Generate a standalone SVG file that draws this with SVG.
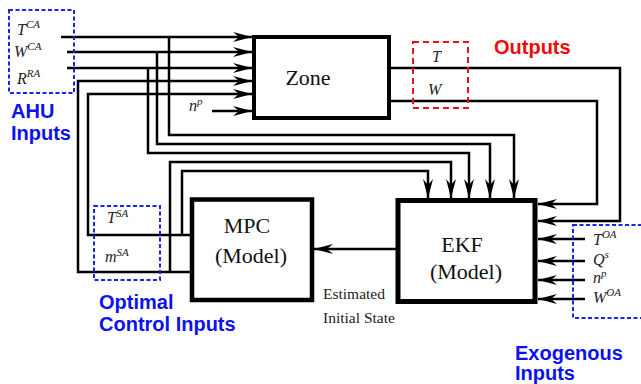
<svg xmlns="http://www.w3.org/2000/svg" width="641" height="384" viewBox="0 0 641 384">
<style>
.box{fill:#fff;stroke:#000}
.wire{fill:none;stroke:#000;stroke-width:2.5}
.arr{marker-end:url(#ah)}
.title{font-family:"Liberation Serif","Times New Roman",serif;font-size:22px;fill:#111;text-anchor:middle}
.math{font-family:"Liberation Serif","Times New Roman",serif;font-style:italic;font-size:16px;fill:#222}
.sup{font-size:11px}
.note{font-family:"Liberation Serif","Times New Roman",serif;font-size:15.5px;fill:#222}
.blue{font-family:"Liberation Sans",Arial,sans-serif;font-weight:bold;font-size:20px;fill:#0a12ee}
.red{font-family:"Liberation Sans",Arial,sans-serif;font-weight:bold;font-size:20px;fill:#ee0a0a}
.bdash{fill:none;stroke:#1a22ee;stroke-width:2;stroke-dasharray:4 2.5}
.rdash{fill:none;stroke:#ee1111;stroke-width:2;stroke-dasharray:6 4}
</style>
<defs>
<marker id="ah" markerUnits="userSpaceOnUse" markerWidth="20" markerHeight="12" viewBox="0 -6 20 12" refX="19" refY="0" orient="auto">
<path d="M0,-5 L19,0 L0,5 L6,0 z" fill="#000"/>
</marker>
</defs>

<g id="connectors">
<path class="wire arr" d="M61,37 H252"/>
<path class="wire arr" d="M67,52 H252"/>
<path class="wire arr" d="M67,68 H252"/>
<path class="wire arr" d="M190,272 H78 V81 H252"/>
<path class="wire arr" d="M190,235 H88 V94 H252"/>
<path class="wire arr" d="M212,111 H252"/>
<path class="wire arr" d="M169,37 V135 H514 V198"/>
<path class="wire arr" d="M157,52 V144 H490 V198"/>
<path class="wire arr" d="M148,68 V153 H469 V198"/>
<path class="wire arr" d="M170,272 V162 H451 V198"/>
<path class="wire arr" d="M182,235 V171 H428 V198"/>
<path class="wire arr" d="M389,68 H620 V221 H538"/>
<path class="wire arr" d="M389,101 H597 V204 H538"/>
<path class="wire arr" d="M585,239 H538"/>
<path class="wire arr" d="M585,261 H538"/>
<path class="wire arr" d="M585,280 H538"/>
<path class="wire arr" d="M585,299 H538"/>
<path class="wire arr" d="M396,249 H314"/>
</g>

<g id="zone">
<rect class="box" x="254" y="37" width="135" height="81" stroke-width="4"/>
<text class="title" x="308" y="85">Zone</text>
</g>

<g id="mpc">
<rect class="box" x="192" y="199.5" width="120" height="100.5" stroke-width="4.5"/>
<text class="title" x="247" y="233">MPC</text>
<text class="title" x="251" y="263">(Model)</text>
</g>

<g id="ekf">
<rect class="box" x="398" y="200.5" width="137" height="101" stroke-width="5"/>
<text class="title" x="462" y="252">EKF</text>
<text class="title" x="466" y="279">(Model)</text>
</g>

<g id="ahu-inputs">
<rect class="bdash" x="9" y="10" width="65" height="83"/>
<text class="math" x="17" y="35">T<tspan class="sup" dy="-7">CA</tspan></text>
<text class="math" x="14" y="57">W<tspan class="sup" dy="-7">CA</tspan></text>
<text class="math" x="17" y="84">R<tspan class="sup" dy="-7">RA</tspan></text>
<text class="blue" x="11" y="118">AHU</text>
<text class="blue" x="11" y="140">Inputs</text>
</g>

<g id="zone-np">
<text class="math" x="189" y="111">n<tspan class="sup" dy="-6">p</tspan></text>
</g>

<g id="outputs">
<rect class="rdash" x="413" y="42" width="55" height="66"/>
<text class="math" x="432" y="62">T</text>
<text class="math" x="428" y="95">W</text>
<text class="red" x="494" y="54">Outputs</text>
</g>

<g id="optimal-control-inputs">
<rect class="bdash" x="94" y="206" width="66" height="74"/>
<text class="math" x="107" y="223">T<tspan class="sup" dy="-6">SA</tspan></text>
<text class="math" x="105" y="262">m<tspan class="sup" dy="-6">SA</tspan></text>
<text class="blue" x="99" y="309">Optimal</text>
<text class="blue" x="99" y="331">Control Inputs</text>
</g>

<g id="exogenous-inputs">
<rect class="bdash" x="573" y="225" width="80" height="93"/>
<text class="math" x="593" y="245">T<tspan class="sup" dy="-7">OA</tspan></text>
<text class="math" x="593" y="265">Q<tspan class="sup" dy="-7">s</tspan></text>
<text class="math" x="593" y="283">n<tspan class="sup" dy="-6">p</tspan></text>
<text class="math" x="593" y="303">W<tspan class="sup" dy="-7">OA</tspan></text>
<text class="blue" x="515" y="360">Exogenous</text>
<text class="blue" x="515" y="380">Inputs</text>
</g>

<g id="estimated-label">
<text class="note" x="323" y="299">Estimated</text>
<text class="note" x="323" y="323">Initial State</text>
</g>
</svg>
